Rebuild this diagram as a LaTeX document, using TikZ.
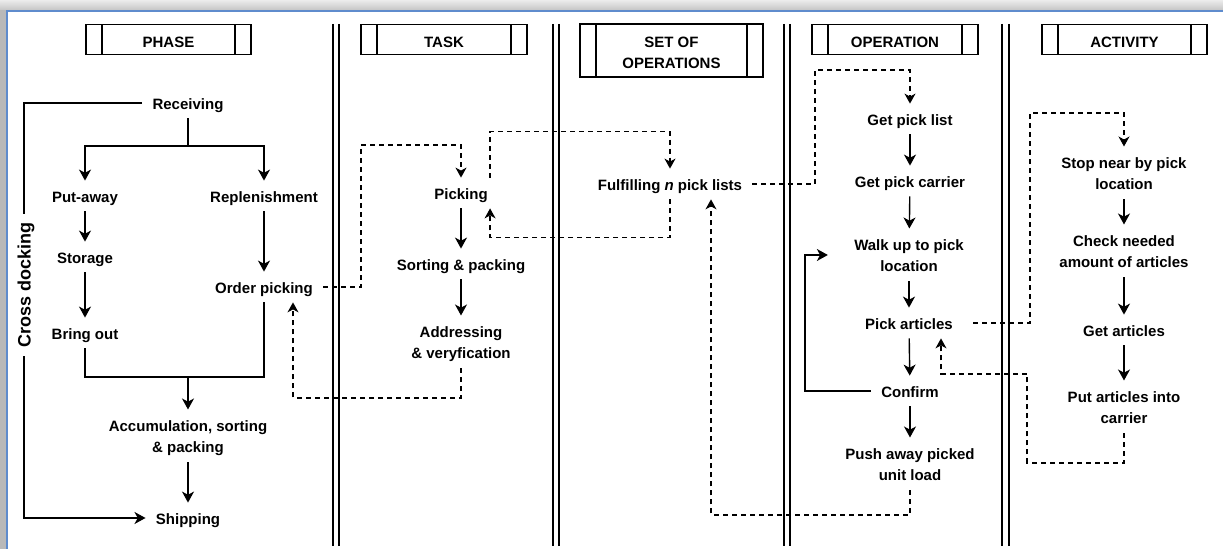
\documentclass[tikz,border=0pt]{standalone}
\usepackage{fontspec}
\setmainfont{Liberation Sans}
\usetikzlibrary{arrows.meta}
\definecolor{winblue}{RGB}{95,140,205}

\begin{document}
\begin{tikzpicture}
[
x=0.5pt, y=-0.5pt,
lane/.style={line width=0.75pt},
hd/.style={draw,line width=0.75pt,minimum width=#1,minimum height=15pt,inner sep=0pt,align=center,
            text height=7.9pt,text depth=0pt,
            font=\fontsize{7.5}{10.5}\selectfont\bfseries,
            path picture={
                        \draw[line width=0.75pt] ([xshift=8pt]path picture bounding box.north west) -- ([xshift=8pt]path picture bounding box.south west)
                        ([xshift=-8pt]path picture bounding box.north east) -- ([xshift=-8pt]path picture bounding box.south east);
            }
},
tx/.style={align=center,inner xsep=5pt,inner ysep=2.5pt,text height=8.4pt,text depth=1.6pt,
            font=\fontsize{7.5}{10.5}\selectfont\bfseries},
txx/.style={tx,inner ysep=3pt,text height=18.5pt,text depth=1.6pt},
ln/.style={line width=0.7pt},
arr/.style={line width=0.7pt,-{Stealth[length=5.5pt,width=6pt,inset=1.6pt]}},
darr/.style={line width=0.6pt,dash pattern=on 2.5pt off 2pt,-{Stealth[length=5pt,width=5.5pt,inset=1.5pt]}},
]

\useasboundingbox (0,0) rectangle (1223,549);

% window frame
\fill[gray!55] (0,0) rectangle (6,549);
\shade[top color=gray!15,bottom color=gray!45] (0,0) rectangle (1223,10);
\draw[winblue,line width=1pt] (7,549) -- (7,11) -- (1223,11);

% lanes
\draw[lane] (333,24) -- (333,546);
\draw[lane] (339,24) -- (339,546);
\draw[lane] (553,24) -- (553,546);
\draw[lane] (559,24) -- (559,546);
\draw[lane] (784,24) -- (784,546);
\draw[lane] (790,24) -- (790,546);
\draw[lane] (1002,24) -- (1002,546);
\draw[lane] (1009,24) -- (1009,546);

\node[hd=82.5pt] (hphase) at (168.5,39.5) {PHASE};
\node[hd=83pt] (htask) at (444,39.5) {TASK};
\node[hd=91.5pt,minimum height=26.5pt,text height=18.4pt] (hset) at (671.5,50.5) {SET OF\\OPERATIONS};
\node[hd=83pt] (hop) at (895,39.5) {OPERATION};
\node[hd=82.5pt] (hact) at (1124.5,39.5) {ACTIVITY};

% phase
\node[tx] (rec) at (188,103) {Receiving};
\node[tx] (put) at (85,196) {Put-away};
\node[tx] (repl) at (264,196) {Replenishment};
\node[tx] (stor) at (85,257) {Storage};
\node[tx] (bout) at (85,333) {Bring out};
\node[tx] (ordp) at (264,287) {Order picking};
\node[txx] (acc) at (188,436) {Accumulation, sorting\\\& packing};
\node[tx] (ship) at (188,518) {Shipping};

% task
\node[tx] (pick) at (461,193) {Picking};
\node[tx] (sort) at (461,264) {Sorting \& packing};
\node[txx] (addr) at (461,342) {Addressing\\\& veryfication};

% set of operations
\node[tx] (ful) at (670,184) {Fulfilling \textit{n} pick lists};

% operation
\node[tx] (gpl) at (910,119) {Get pick list};
\node[tx] (gpc) at (910,181) {Get pick carrier};
\node[txx] (walk) at (909,255) {Walk up to pick\\location};
\node[tx] (pa) at (909,323) {Pick articles};
\node[tx] (conf) at (910,391) {Confirm};
\node[txx] (push) at (910,464) {Push away picked\\unit load};

% activity
\node[txx] (stop) at (1124,173) {Stop near by pick\\location};
\node[txx] (chk) at (1124,251) {Check needed\\amount of articles};
\node[tx] (get) at (1124,330) {Get articles};
\node[txx] (put2) at (1124,407) {Put articles into\\carrier};

\coordinate (spl) at (188,146);
\coordinate (mrg) at (188,377);
\coordinate (cd) at (24,518);
\coordinate (fbk) at (293,398);
\coordinate (fg) at (815,70);
\coordinate (pf) at (711,515);
\coordinate (ps) at (1030,113);
\coordinate (pp1) at (1027,463);
\coordinate (pp2) at (941,374);

\draw[ln] (rec) -- (spl);
\draw[arr] (spl) -| (put);
\draw[arr] (spl) -| (repl);
\draw[arr] (put) -- (stor);
\draw[arr] (stor) -- (bout);
\draw[arr] (repl) -- (ordp);
\draw[ln] (bout) |- (mrg);
\draw[ln] (ordp) |- (mrg);
\draw[arr] (mrg) -- (acc);
\draw[arr] (acc) -- (ship);
\draw[arr] (rec.west) -| (cd) -- (ship.west);
\node[rotate=90,fill=white,inner xsep=4pt,inner ysep=0pt,font=\fontsize{9}{11}\selectfont\bfseries] (cdk) at (26,285) {Cross docking};

\draw[arr] (pick) -- (sort);
\draw[arr] (sort) -- (addr);

\draw[arr] (gpl) -- (gpc);
\draw[arr] (gpc) -- (walk);
\draw[arr] (walk) -- (pa);
\draw[arr] (pa) -- (conf);
\draw[arr] (conf) -- (push);
\draw[arr] (conf.west) -- ++(-66,0) |- ([xshift=-8pt]walk.west);

\draw[arr] (stop) -- (chk);
\draw[arr] (chk) -- (get);
\draw[arr] (get) -- (put2);

\draw[darr] (ordp.east) -| (361,145) -| (pick);
\draw[darr] (addr) |- (fbk) -- (fbk |- ordp.south);
\draw[darr] ([xshift=-4pt]pick.north east) -- ++(0,-46) -| (ful);
\draw[darr] (ful.south) -- ++(0,38) -| ([xshift=-4pt]pick.south east);
\draw[darr] (ful.east) -| (fg) -| (gpl);
\draw[darr] (push) |- (pf) -- (pf |- ful.south);
\draw[darr] ([xshift=5pt]pa.east) -| (ps) -| (stop);
\draw[darr] (put2) |- (pp1) |- (pp2) -- (pp2 |- pa.south);

\end{tikzpicture}
\end{document}
